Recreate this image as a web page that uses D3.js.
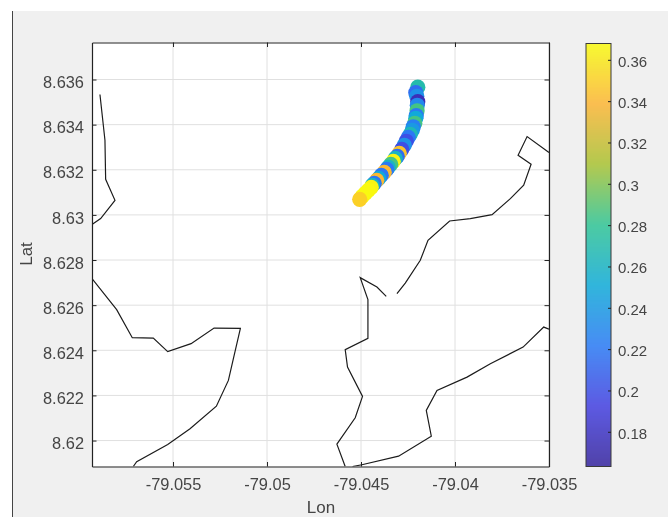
<!DOCTYPE html>
<html>
<head>
<meta charset="utf-8">
<script src="https://cdn.jsdelivr.net/npm/d3@7"></script>
<style>
html, body { margin: 0; padding: 0; background: #fff; }
svg { display: block; filter: blur(0.45px); }
text { font-family: "Liberation Sans", Arial, sans-serif; fill: #454545; }
</style>
</head>
<body>
<script>
// coastline pieces, [lon, lat]
let coastA = [[-79.058887,8.635335],[-79.058621,8.633308],[-79.058584,8.631579],[-79.058088,8.630647],[-79.05885,8.629836],[-79.05931,8.62957]];
let coastB = [[-79.05931,8.627175],[-79.057998,8.6258],[-79.057167,8.624559],[-79.056049,8.624541],[-79.055282,8.623938],[-79.054041,8.624293],[-79.052817,8.624985],[-79.051416,8.624971],[-79.051789,8.623627],[-79.052055,8.622665],[-79.052694,8.621525],[-79.054095,8.620523],[-79.055282,8.619827],[-79.056933,8.61906],[-79.057114,8.61885]];
let coastC = [[-79.045841,8.61885],[-79.046283,8.61984],[-79.045308,8.621011],[-79.04492,8.621956],[-79.045718,8.623255],[-79.045841,8.624027],[-79.044632,8.624528],[-79.044632,8.626244],[-79.045042,8.62722],[-79.044153,8.626803],[-79.043658,8.62639]];
let coastD = [[-79.045452,8.61885],[-79.044952,8.618927],[-79.043003,8.619308],[-79.041261,8.620195],[-79.041528,8.621335],[-79.040958,8.622222],[-79.039361,8.622812],[-79.03812,8.623406],[-79.036378,8.624142],[-79.035281,8.625029],[-79.035,8.62494]];
let coastE = [[-79.043088,8.62651],[-79.042646,8.62698],[-79.041847,8.627987],[-79.041437,8.628874],[-79.040287,8.629729],[-79.039185,8.629836],[-79.038029,8.630013],[-79.037055,8.630723],[-79.036347,8.631313],[-79.035952,8.632244],[-79.036645,8.632643],[-79.036165,8.633472],[-79.035,8.632763]];
let coast = [coastA, coastB, coastC, coastD, coastE];

// track samples in draw order
let lons = [-79.04198,-79.042087,-79.042034,-79.04198,-79.042007,-79.042018,-79.04206,-79.042087,-79.04214,-79.04222,-79.042273,-79.04238,-79.042486,-79.042593,-79.042699,-79.042832,-79.042965,-79.043072,-79.043178,-79.043285,-79.043418,-79.043551,-79.043631,-79.043764,-79.043924,-79.044057,-79.044164,-79.044297,-79.044403,-79.044456,-79.044616,-79.044776,-79.044936,-79.045069];
let lats = [8.635659,8.635415,8.635259,8.635016,8.63486,8.634616,8.634395,8.634284,8.634062,8.633907,8.633752,8.633574,8.633441,8.633264,8.633087,8.632909,8.632732,8.632599,8.63251,8.632377,8.632244,8.632111,8.632022,8.631889,8.631756,8.631623,8.631534,8.631401,8.631313,8.631224,8.631091,8.630958,8.630825,8.630692];
let vals = [0.27,0.215,0.235,0.175,0.23,0.285,0.22,0.25,0.285,0.225,0.24,0.265,0.22,0.2,0.235,0.2,0.345,0.215,0.26,0.365,0.285,0.26,0.22,0.34,0.22,0.25,0.34,0.22,0.26,0.365,0.367,0.367,0.367,0.35];

let lonTicks = [-79.055,-79.05,-79.045,-79.04,-79.035];
let lonLabels = ["-79.055","-79.05","-79.045","-79.04","-79.035"];
let latTicks = [8.62,8.622,8.624,8.626,8.628,8.63,8.632,8.634,8.636];
let latLabels = ["8.62","8.622","8.624","8.626","8.628","8.63","8.632","8.634","8.636"];
let cTicks = [0.18,0.2,0.22,0.24,0.26,0.28,0.3,0.32,0.34,0.36];
let cLabels = ["0.18","0.2","0.22","0.24","0.26","0.28","0.3","0.32","0.34","0.36"];
let parula = ["#35249c","#4340e0","#2a7bf5","#10abd8","#30c494","#a8c233","#fcb535","#f9fb0f"];

let w = 668, h = 517;
let plot = {left: 92, right: 549, top: 42.5, bottom: 466.5};
let bar = {left: 586, right: 611, top: 43.5, bottom: 466.5};

let svg = d3.select("body").append("svg").attr("width", w).attr("height", h);

// figure background
svg.append("rect").attr("x", 13).attr("y", 11).attr("width", w-13).attr("height", h-11).attr("fill", "#f0f0f0");
svg.append("line").attr("x1", 12.5).attr("x2", 12.5).attr("y1", 11).attr("y2", h).attr("stroke", "#444");

let x = d3.scaleLinear().domain([-79.05931,-79.035]).range([plot.left, plot.right]);
let y = d3.scaleLinear().domain([8.61885,8.63764]).range([plot.bottom, plot.top]);
let cy = d3.scaleLinear().domain([0.1632,0.3679]).range([bar.bottom, bar.top]);
let cmap = d3.scaleLinear().domain(d3.range(parula.length).map(i=>i/(parula.length-1))).range(parula);
let color = v=>cmap((v-0.1632)/(0.3679-0.1632));

svg.append("defs").append("clipPath").attr("id", "plotClip").append("rect")
   .attr("x", plot.left).attr("y", plot.top)
   .attr("width", plot.right-plot.left).attr("height", plot.bottom-plot.top);

svg.append("rect").attr("x", plot.left).attr("y", plot.top)
   .attr("width", plot.right-plot.left).attr("height", plot.bottom-plot.top).attr("fill", "#fff");

// grid
let grid = svg.append("g").attr("stroke", "#e0e0e0");
grid.selectAll("line.gx").data(lonTicks).enter().append("line").attr("class", "gx")
    .attr("x1", d=>x(d)).attr("x2", d=>x(d)).attr("y1", plot.top).attr("y2", plot.bottom);
grid.selectAll("line.gy").data(latTicks).enter().append("line").attr("class", "gy")
    .attr("x1", plot.left).attr("x2", plot.right).attr("y1", d=>y(d)).attr("y2", d=>y(d));

let chartGroup = svg.append("g").attr("clip-path", "url(#plotClip)");

let line = d3.line().x(d=>x(d[0])).y(d=>y(d[1]));
chartGroup.selectAll("path.coast").data(coast).enter().append("path")
          .attr("class", "coast")
          .attr("d", d=>line(d))
          .attr("fill", "none")
          .attr("stroke", "#1c1c1c")
          .attr("stroke-width", 1.2);

chartGroup.selectAll("circle").data(vals).enter().append("circle")
          .attr("cx", (d,i)=>x(lons[i]))
          .attr("cy", (d,i)=>y(lats[i]))
          .attr("r", 7.6)
          .attr("fill", d=>color(d));

// axes, ticks point inward
function styleAxis(g, size) {
  g.selectAll(".domain").attr("stroke", "#222").attr("stroke-width", 1.2);
  g.selectAll(".tick line").attr("stroke", "#222");
  g.selectAll("text").style("font-size", size+"px").attr("fill", null);
}

svg.append("g").attr("transform", "translate(0,"+plot.bottom+")")
   .call(d3.axisBottom(x).tickValues(lonTicks).tickFormat((d,i)=>lonLabels[i]).tickSizeInner(-4.5).tickSizeOuter(0).tickPadding(12))
   .call(g=>styleAxis(g, 16.4));
svg.append("g").attr("transform", "translate(0,"+plot.top+")")
   .call(d3.axisTop(x).tickValues(lonTicks).tickFormat("").tickSizeInner(-4.5).tickSizeOuter(0))
   .call(g=>styleAxis(g, 16.4));
svg.append("g").attr("transform", "translate("+plot.left+",0)")
   .call(d3.axisLeft(y).tickValues(latTicks).tickFormat((d,i)=>latLabels[i]).tickSizeInner(-4.5).tickSizeOuter(0).tickPadding(8))
   .call(g=>styleAxis(g, 16.4))
   .call(g=>g.selectAll("text").attr("dy", "0.5em"));
svg.append("g").attr("transform", "translate("+plot.right+",0)")
   .call(d3.axisRight(y).tickValues(latTicks).tickFormat("").tickSizeInner(-4.5).tickSizeOuter(0))
   .call(g=>styleAxis(g, 16.4));

svg.append("text").attr("x", 321).attr("y", 513).attr("text-anchor", "middle").style("font-size", "17px").text("Lon");
svg.append("text").attr("transform", "translate(32,254) rotate(-90)").attr("text-anchor", "middle").style("font-size", "17px").text("Lat");

// colorbar
let strips = d3.range(bar.top, bar.bottom, 1);
svg.append("g").selectAll("rect").data(strips).enter().append("rect")
   .attr("x", bar.left).attr("width", bar.right-bar.left)
   .attr("y", d=>d).attr("height", 1.2)
   .attr("fill", d=>color(cy.invert(d+0.5)));
svg.append("rect").attr("x", bar.left).attr("y", bar.top)
   .attr("width", bar.right-bar.left).attr("height", bar.bottom-bar.top)
   .attr("fill", "none").attr("stroke", "#3a3a3a");
svg.append("g").attr("transform", "translate("+bar.right+",0)")
   .call(d3.axisRight(cy).tickValues(cTicks).tickFormat((d,i)=>cLabels[i]).tickSizeInner(-3).tickSizeOuter(0).tickPadding(7))
   .call(g=>g.select(".domain").remove())
   .call(g=>styleAxis(g, 15))
   .call(g=>g.selectAll("text").attr("dy", "0.42em"));
</script>
</body>
</html>
